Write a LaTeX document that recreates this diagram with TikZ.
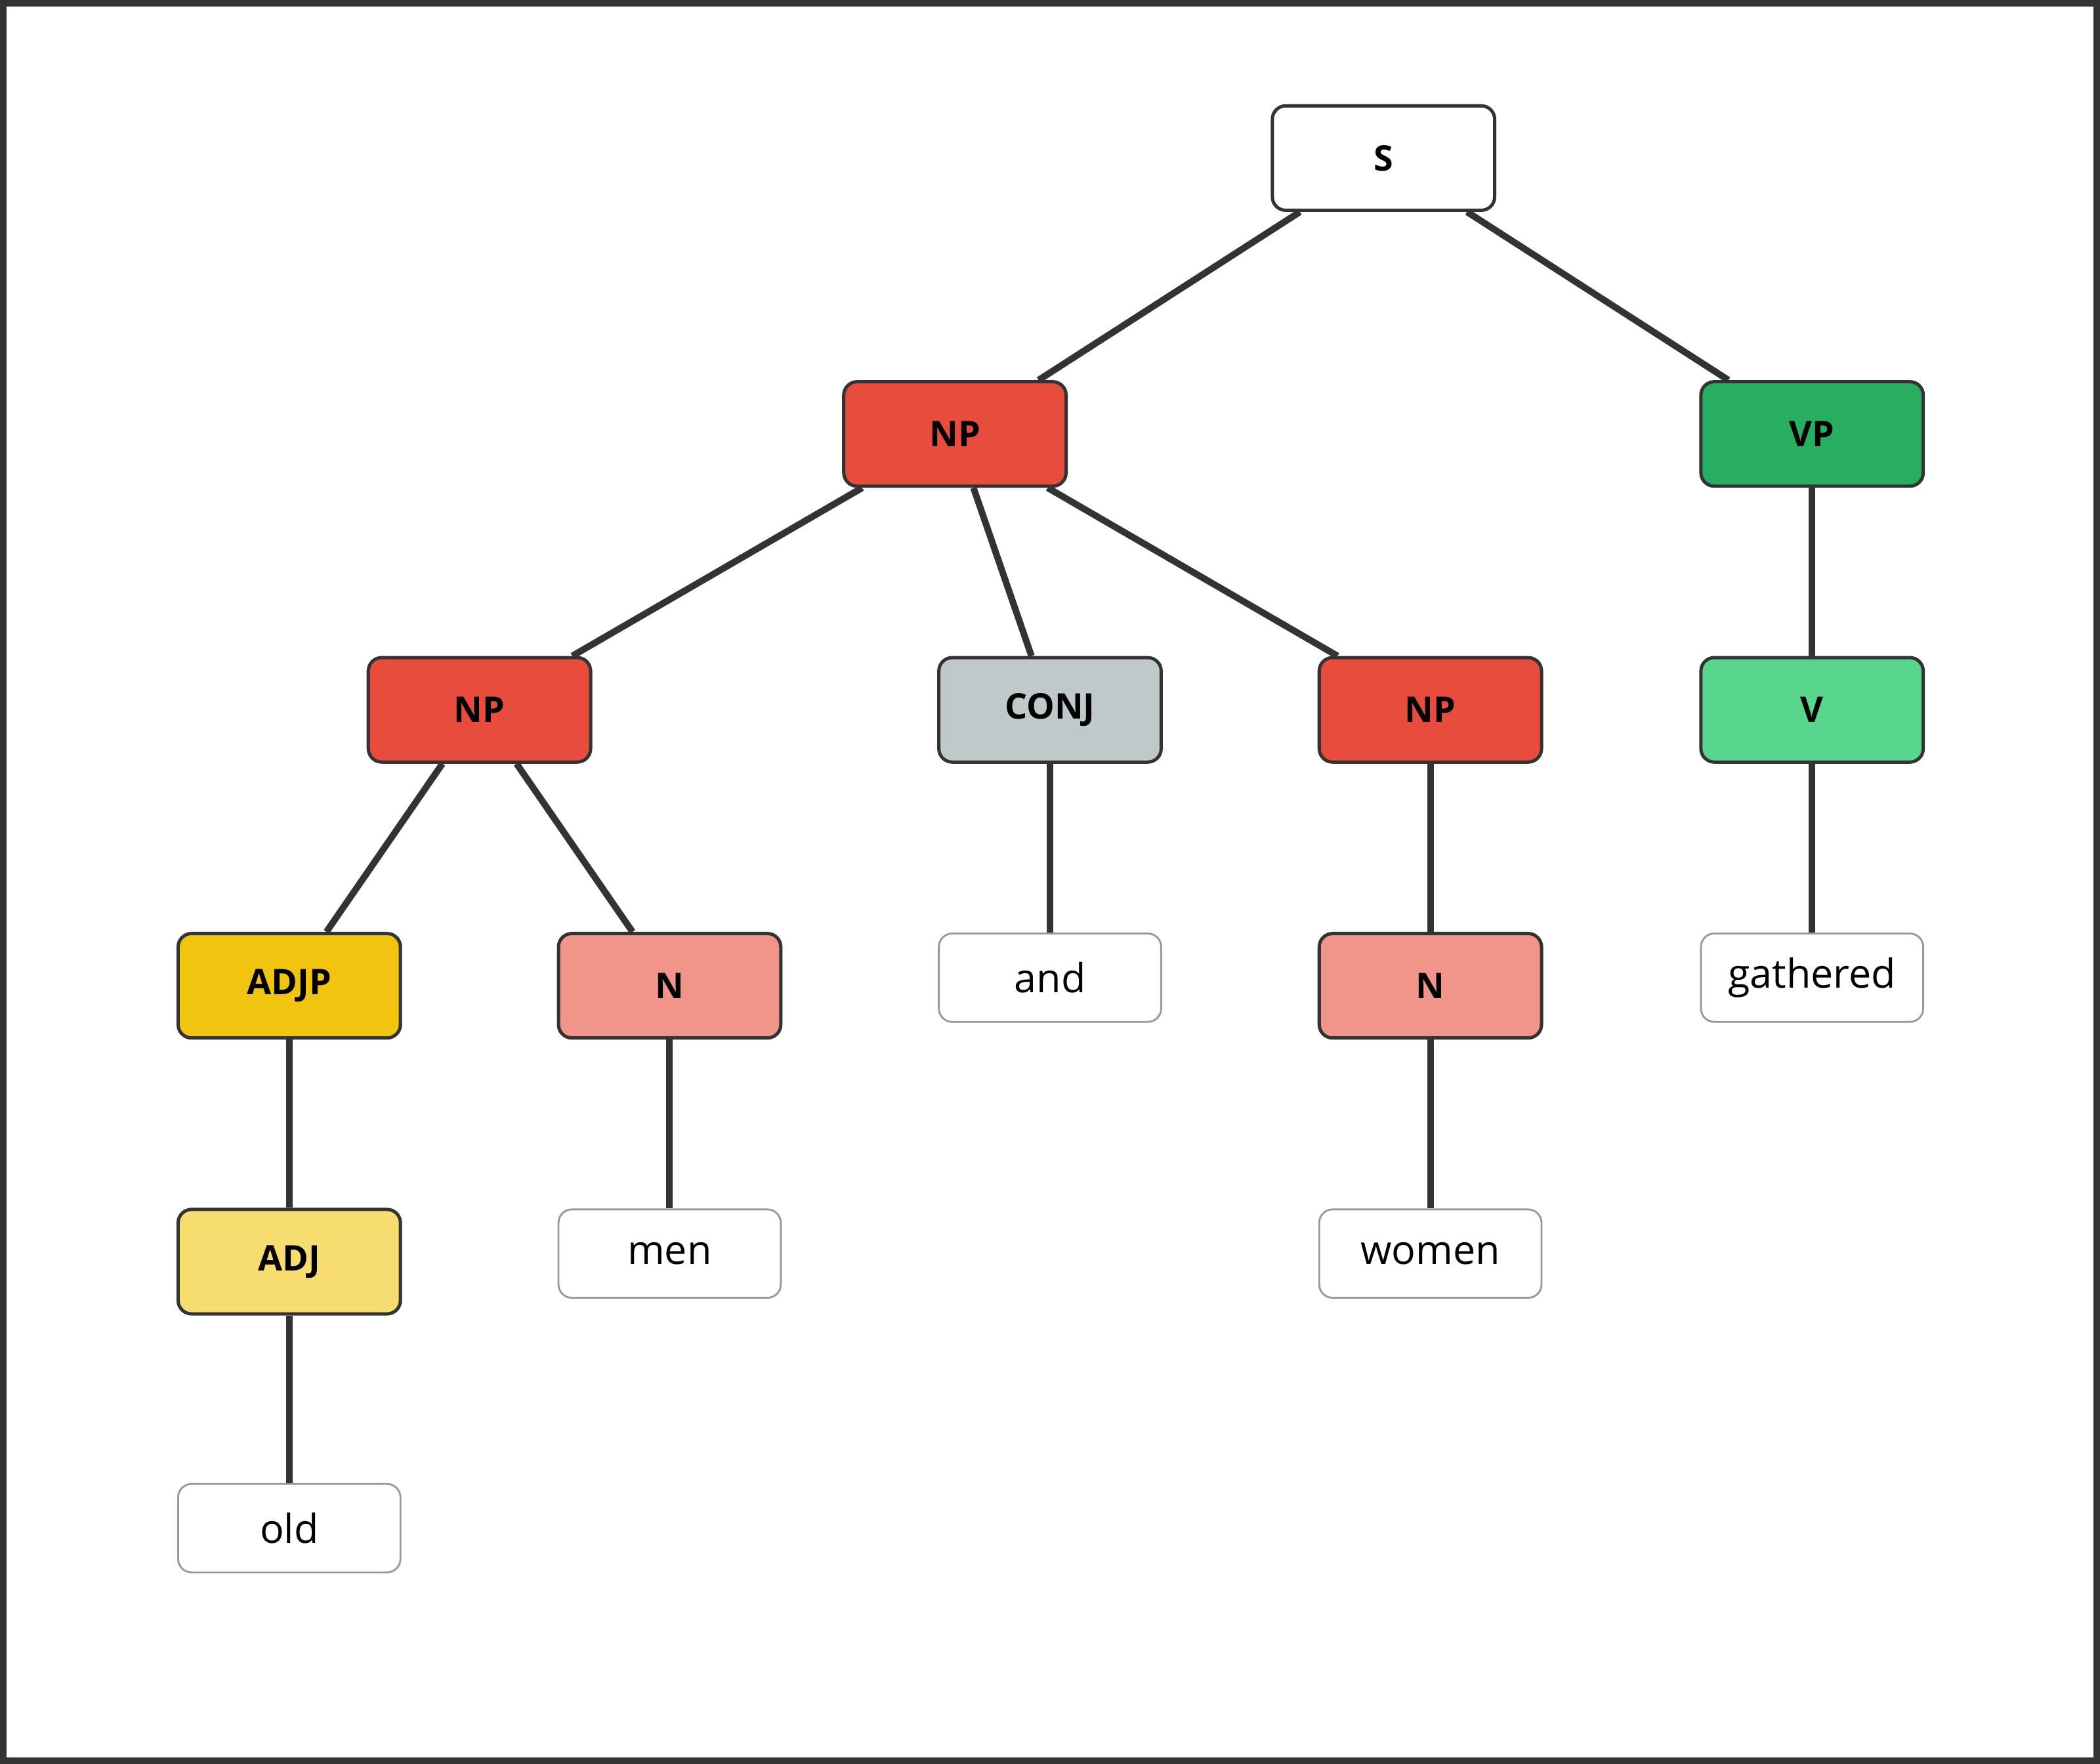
\documentclass[tikz,border=0pt]{standalone}
\usepackage{fontspec}
\setmainfont{Open Sans}
\usepackage{tikz}
\definecolor{npred}{HTML}{E74C3C}
\definecolor{vpgreen}{HTML}{27AE60}
\definecolor{vgreen}{HTML}{58D68D}
\definecolor{conjgray}{HTML}{BFC9CA}
\definecolor{adjpyel}{HTML}{F1C40F}
\definecolor{adjyel}{HTML}{F7DC6F}
\definecolor{npink}{HTML}{F1948A}
\definecolor{dark}{HTML}{333333}
\tikzset{
  cat/.style={draw=dark, line width=1.4pt, rounded corners=0.2cm, minimum width=3.32cm, minimum height=1.56cm, font=\fontsize{15}{18}\selectfont\bfseries},
  leaf/.style={draw=black!40, line width=0.8pt, rounded corners=0.2cm, fill=white, minimum width=3.32cm, minimum height=1.32cm, font=\fontsize{17}{20}\selectfont},
  branch/.style={draw=dark, line width=2.8pt}
}
\begin{document}
\begin{tikzpicture}
    \draw [dark, line width=2.8pt, fill=white] (0.05,-0.05) rectangle (31.31,-26.29);
    \useasboundingbox (0,0) rectangle (31.36,-26.34);

    \node [cat, fill=white] (s) at (20.66,-2.36) {S};
    \node [cat, fill=npred] (np1) at (14.26,-6.48) {NP};
    \node [cat, fill=vpgreen] (vp) at (27.06,-6.48) {VP};
    \node [cat, fill=npred] (np2) at (7.16,-10.6) {NP};
    \node [cat, fill=conjgray] (conj) at (15.68,-10.6) {CONJ};
    \node [cat, fill=npred] (np3) at (21.36,-10.6) {NP};
    \node [cat, fill=vgreen] (v) at (27.06,-10.6) {V};
    \node [cat, fill=adjpyel] (adjp) at (4.32,-14.72) {ADJP};
    \node [cat, fill=npink] (n1) at (10.0,-14.72) {N};
    \node [cat, fill=npink] (n2) at (21.36,-14.72) {N};
    \node [cat, fill=adjyel] (adj) at (4.32,-18.84) {ADJ};

    \node [leaf] (and) at (15.68,-14.6) {and};
    \node [leaf] (gathered) at (27.06,-14.6) {gathered};
    \node [leaf] (men) at (10.0,-18.72) {men};
    \node [leaf] (women) at (21.36,-18.72) {women};
    \node [leaf] (old) at (4.32,-22.82) {old};

    \draw [branch] (s) -- (np1);
    \draw [branch] (s) -- (vp);
    \draw [branch] (np1) -- (np2);
    \draw [branch] (np1) -- (conj);
    \draw [branch] (np1) -- (np3);
    \draw [branch] (vp) -- (v);
    \draw [branch] (np2) -- (adjp);
    \draw [branch] (np2) -- (n1);
    \draw [branch] (conj) -- (and);
    \draw [branch] (np3) -- (n2);
    \draw [branch] (v) -- (gathered);
    \draw [branch] (adjp) -- (adj);
    \draw [branch] (n1) -- (men);
    \draw [branch] (n2) -- (women);
    \draw [branch] (adj) -- (old);
\end{tikzpicture}
\end{document}
